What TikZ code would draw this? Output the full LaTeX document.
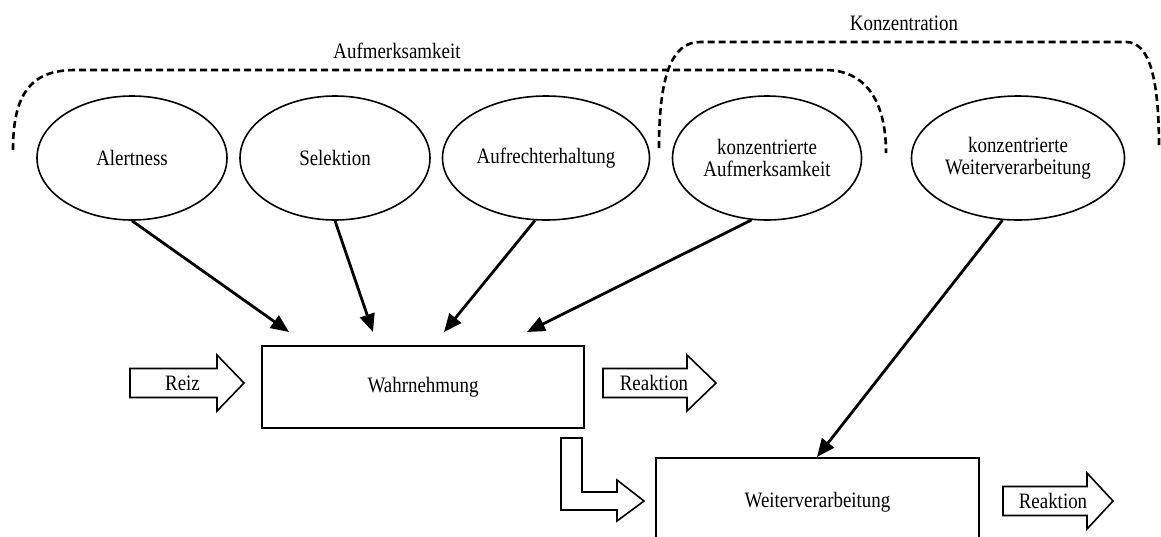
\documentclass[tikz,border=0pt]{standalone}
\usepackage{fontspec}
\setmainfont{Liberation Serif}[FakeStretch=0.86]
\usetikzlibrary{arrows.meta,shapes.geometric}

% outlined block arrow: shaft start, head start, tip, centre line
\newcommand{\blockarr}[4]{%
  \draw[blockarrow] (#1,{#4-14.5}) -- (#2,{#4-14.5}) -- (#2,{#4-28}) -- (#3,#4)
    -- (#2,{#4+28}) -- (#2,{#4+14.5}) -- (#1,{#4+14.5}) -- cycle;}

\begin{document}
\begin{tikzpicture}[x=1pt,y=-1pt,
  font=\fontsize{22}{21.5}\selectfont,
  oval/.style={draw,ellipse,line width=1.6pt,inner sep=0pt,minimum height=124pt,align=center},
  box/.style={draw,rectangle,line width=1.6pt,inner sep=0pt},
  conn/.style={line width=2.8pt,-{Triangle[length=18pt,width=15pt]}},
  bracket/.style={line width=2.6pt,dash pattern=on 7pt off 4pt},
  blockarrow/.style={draw,line width=1.6pt,fill=white,line join=miter},
  label/.style={inner sep=0pt,anchor=base}]

\useasboundingbox (0,0) rectangle (1161,536);
\clip (0,0) rectangle (1161,536);

% dashed brackets
\draw[bracket] (13,150) .. controls (13,95) and (30,70) .. (75,70)
  -- (825,70) .. controls (865,70) and (886,100) .. (886,153);
\draw[bracket] (659,148) .. controls (659,75) and (672,42) .. (700,42)
  -- (1126,42) .. controls (1150,42) and (1159,80) .. (1159,148);
\node[label] (lauf) at (397,58) {Aufmerksamkeit};
\node[label] (lkon) at (904,30) {Konzentration};

% components
\node[oval,minimum width=190pt] (al) at (132,158) {Alertness};
\node[oval,minimum width=190pt] (se) at (335,158) {Selektion};
\node[oval,minimum width=207pt] (au) at (546,158) {Aufrechterhaltung};
\node[oval,minimum width=189pt] (ka) at (767,158) {konzentrierte\\Aufmerksamkeit};
\node[oval,minimum width=213pt] (kw) at (1018,158) {konzentrierte\\Weiterverarbeitung};

% processing stages
\node[box,minimum width=322pt,minimum height=82pt] (wa) at (423,387) {Wahrnehmung};
\node[box,minimum width=323pt,minimum height=88pt] (wv) at (817.5,502) {Weiterverarbeitung};

% arrow tips above the boxes
\coordinate (t1) at (289,332);
\coordinate (t2) at (373,332);
\coordinate (t3) at (444,332);
\coordinate (t4) at (527,332);
\coordinate (t5) at (817,457);

\draw[conn] (al.south) -- (t1);
\draw[conn] (se.south) -- (t2);
\draw[conn] (au.-100) -- (t3);
\draw[conn] (ka.-104) -- (t4);
\draw[conn] (kw.-104) -- (t5);

% input and output arrows
\blockarr{130}{217}{244}{383}
\node (reiz) at (182.5,383) {Reiz};
\blockarr{603}{687}{716}{383}
\node (rk1) at (654,383) {Reaktion};
\blockarr{1003}{1087}{1113}{501}
\node (rk2) at (1053,501) {Reaktion};

% bent arrow from Wahrnehmung to Weiterverarbeitung
\draw[blockarrow] (561,438) -- (582,438) -- (582,492) -- (617,492) -- (617,480)
  -- (644,501) -- (617,521) -- (617,510) -- (561,510) -- cycle;
\end{tikzpicture}
\end{document}
